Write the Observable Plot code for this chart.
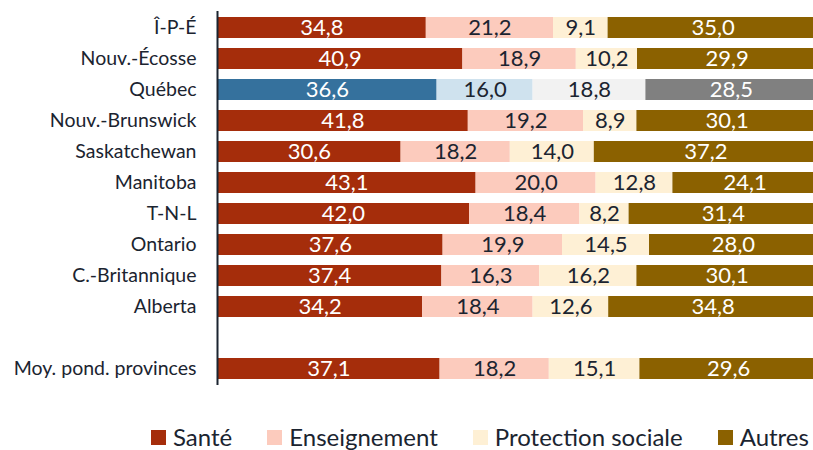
<!DOCTYPE html>
<html>
<head>
<meta charset="utf-8">
<script src="https://cdn.jsdelivr.net/npm/d3@7"></script>
<script src="https://cdn.jsdelivr.net/npm/@observablehq/plot@0.6"></script>
<style>
  html, body { margin: 0; padding: 0; background: #fff; }
  body { width: 813px; height: 450px; overflow: hidden; font-family: Lato, "DejaVu Sans", sans-serif; color: #1b2430; }
  #legend { display: flex; align-items: center; height: 28px; margin-top: 23px; padding-left: 151px; font-size: 24px; line-height: 28px; white-space: nowrap; }
  .item { display: flex; align-items: center; margin-right: 35px; }
  .sw { width: 15px; height: 15px; margin-right: 7px; flex: none; }
</style>
</head>
<body>
<div id="chart"></div>
<div id="legend"></div>
<script>
const provinces = ["Î-P-É","Nouv.-Écosse","Québec","Nouv.-Brunswick","Saskatchewan","Manitoba","T-N-L","Ontario","C.-Britannique","Alberta","Moy. pond. provinces"];
const categories = ["Santé","Enseignement","Protection sociale","Autres"];
const sante     = [34.8,40.9,36.6,41.8,30.6,43.1,42.0,37.6,37.4,34.2,37.1];
const enseign   = [21.2,18.9,16.0,19.2,18.2,20.0,18.4,19.9,16.3,18.4,18.2];
const protSoc   = [9.1,10.2,18.8,8.9,14.0,12.8,8.2,14.5,16.2,12.6,15.1];
const autres    = [35.0,29.9,28.5,30.1,37.2,24.1,31.4,28.0,30.1,34.8,29.6];

const colors      = ["#A52D0B","#FCCBBD","#FEF0D5","#8B6100"];
const quebecCols  = ["#35719D","#CFE2EE","#F2F2F2","#808080"];
const textCols    = ["#ffffff","#1b2430","#1b2430","#ffffff"];
const series = [sante, enseign, protSoc, autres];

const rows = [];
categories.forEach((cat, j) => {
  provinces.forEach((prov, i) => {
    rows.push({
      prov, cat, value: series[j][i],
      fill: prov === "Québec" ? quebecCols[j] : colors[j],
      tfill: textCols[j]
    });
  });
});

const gap = "\u00a0";
const yDomain = [...provinces.slice(0, 10), gap, provinces[10]];
const fmt = v => d3.format(".1f")(v).replace(".", ",");

const chart = Plot.plot({
  width: 813,
  height: 400,
  marginTop: 11,
  marginBottom: 15,
  marginLeft: 217,
  marginRight: 0,
  style: { fontFamily: "Lato, sans-serif", fontSize: "19.5px", color: "#1b2430", background: "#fff" },
  x: { domain: [0, 100], range: [217, 817], axis: null },
  y: { domain: yDomain, paddingInner: 0.33, paddingOuter: 0.165, label: null, tickSize: 0, tickPadding: 21, tickFormat: d => d === gap ? "" : d },
  color: { type: "identity" },
  marks: [
    Plot.barX(rows, Plot.stackX({ x: "value", y: "prov", z: "cat", fill: "fill", order: null })),
    Plot.text(rows, Plot.stackX({ x: "value", y: "prov", z: "cat", order: null, text: d => fmt(d.value), fill: "tfill", fontSize: 22 })),
    Plot.ruleX([0], { stroke: "#1b2430", strokeWidth: 2 })
  ]
});
document.getElementById("chart").appendChild(chart);

const legend = document.getElementById("legend");
categories.forEach((cat, j) => {
  const it = document.createElement("div");
  it.className = "item";
  const sw = document.createElement("div");
  sw.className = "sw";
  sw.style.background = colors[j];
  const tx = document.createElement("span");
  tx.textContent = cat;
  it.appendChild(sw); it.appendChild(tx);
  legend.appendChild(it);
});
</script>
</body>
</html>
